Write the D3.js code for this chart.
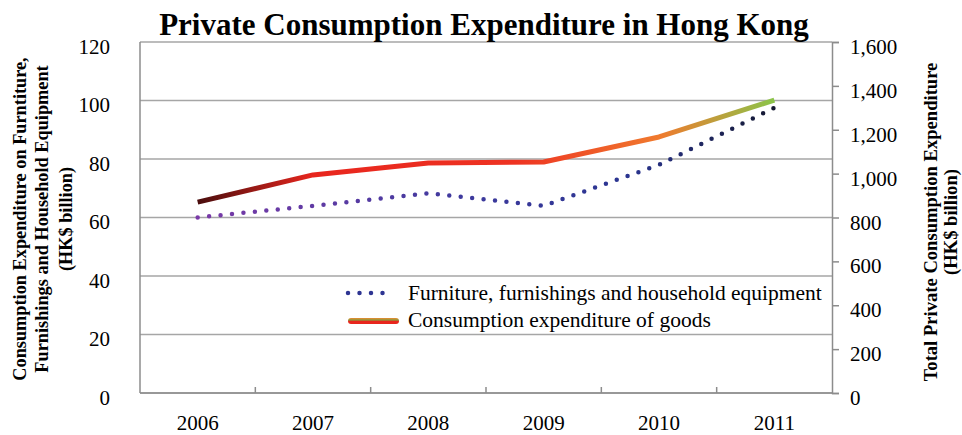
<!DOCTYPE html>
<html>
<head>
<meta charset="utf-8">
<script src="https://cdn.jsdelivr.net/npm/d3@7"></script>
<style>
  body { margin: 0; background: #fff; }
  text { font-family: "Liberation Serif", "Times New Roman", serif; }
</style>
</head>
<body>
<div id="my_dataviz"></div>
<script>
// data
var years = ["2006", "2007", "2008", "2009", "2010", "2011"];
var furniture = [60, 64, 68.3, 64, 78, 97.5];          // left axis, HK$ billion
var goods = [870, 994, 1048, 1053, 1167, 1335];        // right axis, HK$ billion
var leftTicks = [0, 20, 40, 60, 80, 100, 120];
var rightTicks = [0, 200, 400, 600, 800, 1000, 1200, 1400, 1600];

var W = 962, H = 435;
var plot = {left: 140, right: 832, top: 42, bottom: 393};
var labelSize = "21px";

var svg = d3.select("#my_dataviz")
  .append("svg")
    .attr("width", W)
    .attr("height", H);

var defs = svg.append("defs");

// scales
var x = d3.scaleBand()
  .domain(years)
  .range([plot.left, plot.right]);
var yL = d3.scaleLinear()
  .domain([0, 120])
  .range([plot.bottom, plot.top]);
var yR = d3.scaleLinear()
  .domain([0, 1600])
  .range([plot.bottom, plot.top]);
var cx = function(d) { return x(d) + x.bandwidth() / 2; };

// gridlines
svg.append("g")
  .selectAll("line")
  .data(leftTicks)
  .enter()
  .append("line")
    .attr("x1", plot.left)
    .attr("x2", plot.right)
    .attr("y1", function(d) { return yL(d); })
    .attr("y2", function(d) { return yL(d); })
    .attr("stroke", "#a6a6a6")
    .attr("stroke-width", 1.5);

// left axis line + labels
svg.append("line")
  .attr("x1", plot.left).attr("x2", plot.left)
  .attr("y1", plot.top).attr("y2", plot.bottom)
  .attr("stroke", "#8c8c8c").attr("stroke-width", 1.5);
svg.append("g")
  .selectAll("text")
  .data(leftTicks)
  .enter()
  .append("text")
    .attr("x", 110)
    .attr("y", function(d) { return yL(d) + 11.5; })
    .attr("text-anchor", "end")
    .style("font-size", labelSize)
    .text(function(d) { return d; });

// right axis
var rightAxis = svg.append("g")
  .attr("transform", "translate(" + plot.right + ",0)")
  .call(d3.axisRight(yR).tickValues(rightTicks).tickSize(7).tickPadding(11)
        .tickFormat(d3.format(",")));
rightAxis.select(".domain").attr("stroke", "#8c8c8c").attr("stroke-width", 1.5);
rightAxis.selectAll(".tick line").attr("stroke", "#8c8c8c").attr("stroke-width", 1.5);
rightAxis.selectAll(".tick text")
  .style("font-family", "'Liberation Serif', serif")
  .style("font-size", labelSize)
  .attr("dy", null)
  .attr("y", 11.5)
  .attr("fill", "#000");

// bottom axis: ticks between categories pointing up
var bottomAxis = svg.append("g")
  .attr("transform", "translate(0," + plot.bottom + ")");
bottomAxis.append("line")
  .attr("x1", plot.left).attr("x2", plot.right)
  .attr("stroke", "#8c8c8c").attr("stroke-width", 1.5);
bottomAxis.selectAll("tick")
  .data(years.slice(1))
  .enter()
  .append("line")
    .attr("x1", function(d) { return x(d); })
    .attr("x2", function(d) { return x(d); })
    .attr("y1", 0).attr("y2", -6)
    .attr("stroke", "#8c8c8c").attr("stroke-width", 1.5);
bottomAxis.selectAll("lbl")
  .data(years)
  .enter()
  .append("text")
    .attr("x", cx)
    .attr("y", 37)
    .attr("text-anchor", "middle")
    .style("font-size", labelSize)
    .text(function(d) { return d; });

// gradients
var gGoods = defs.append("linearGradient")
  .attr("id", "gGoods")
  .attr("gradientUnits", "userSpaceOnUse")
  .attr("x1", cx("2006")).attr("x2", cx("2011"))
  .attr("y1", 0).attr("y2", 0);
gGoods.selectAll("stop")
  .data([[0, "#4a0d0d"], [0.2, "#e8261e"], [0.55, "#ee3322"], [0.8, "#f07a2e"], [1, "#8ac44a"]])
  .enter().append("stop")
    .attr("offset", function(d) { return d[0]; })
    .attr("stop-color", function(d) { return d[1]; });

var gFurn = defs.append("linearGradient")
  .attr("id", "gFurn")
  .attr("gradientUnits", "userSpaceOnUse")
  .attr("x1", cx("2006")).attr("x2", cx("2011"))
  .attr("y1", 0).attr("y2", 0);
gFurn.selectAll("stop")
  .data([[0, "#7a3aa8"], [0.45, "#3f3a9e"], [0.75, "#2a3590"], [1, "#141830"]])
  .enter().append("stop")
    .attr("offset", function(d) { return d[0]; })
    .attr("stop-color", function(d) { return d[1]; });

var gLegend = defs.append("linearGradient")
  .attr("id", "gLegend")
  .attr("x1", 0).attr("x2", 0).attr("y1", 0).attr("y2", 1);
gLegend.selectAll("stop")
  .data([[0, "#f08a30"], [0.35, "#8a9a3a"], [0.55, "#e8261e"], [1, "#e8261e"]])
  .enter().append("stop")
    .attr("offset", function(d) { return d[0]; })
    .attr("stop-color", function(d) { return d[1]; });

// lines
var lineL = d3.line()
  .x(function(d, i) { return cx(years[i]); })
  .y(function(d) { return yL(d); });
var lineR = d3.line()
  .x(function(d, i) { return cx(years[i]); })
  .y(function(d) { return yR(d); });

svg.append("path")
  .datum(goods)
  .attr("d", lineR)
  .attr("fill", "none")
  .attr("stroke", "url(#gGoods)")
  .attr("stroke-width", 5)
  .attr("stroke-linejoin", "round");

svg.append("path")
  .datum(furniture)
  .attr("d", lineL)
  .attr("fill", "none")
  .attr("stroke", "url(#gFurn)")
  .attr("stroke-width", 4.5)
  .attr("stroke-linecap", "round")
  .attr("stroke-dasharray", "0,11.5");

// legend
var legend = svg.append("g");
legend.append("line")
  .attr("x1", 348).attr("x2", 388)
  .attr("y1", 293).attr("y2", 293)
  .attr("stroke", "#2e3592")
  .attr("stroke-width", 4.5)
  .attr("stroke-linecap", "round")
  .attr("stroke-dasharray", "0,11.5");
legend.append("rect")
  .attr("x", 348).attr("y", 318)
  .attr("width", 51).attr("height", 6)
  .attr("rx", 3)
  .attr("fill", "url(#gLegend)");
legend.append("text")
  .attr("x", 408).attr("y", 300)
  .style("font-size", "21.5px")
  .text("Furniture, furnishings and household equipment");
legend.append("text")
  .attr("x", 408).attr("y", 327)
  .style("font-size", "21.5px")
  .text("Consumption expenditure of goods");

// title
svg.append("text")
  .attr("x", 484).attr("y", 35)
  .attr("text-anchor", "middle")
  .style("font-size", "31px")
  .style("font-weight", "bold")
  .text("Private Consumption Expenditure in Hong Kong");

// axis titles
var leftTitle = ["Consumption Expenditure on Furntiture,", "Furnishings and Household Equipment", "(HK$ billion)"];
var leftX = [26, 48, 72];
svg.selectAll("ltitle")
  .data(leftTitle)
  .enter()
  .append("text")
    .attr("transform", function(d, i) { return "translate(" + leftX[i] + ",219) rotate(-90)"; })
    .attr("text-anchor", "middle")
    .style("font-size", "18.3px")
    .style("font-weight", "bold")
    .text(function(d) { return d; });

var rightTitle = ["Total Private Consumption Expenditure", "(HK$ billion)"];
var rightX = [937, 957];
svg.selectAll("rtitle")
  .data(rightTitle)
  .enter()
  .append("text")
    .attr("transform", function(d, i) { return "translate(" + rightX[i] + ",222) rotate(-90)"; })
    .attr("text-anchor", "middle")
    .style("font-size", "18.6px")
    .style("font-weight", "bold")
    .text(function(d) { return d; });
</script>
</body>
</html>
